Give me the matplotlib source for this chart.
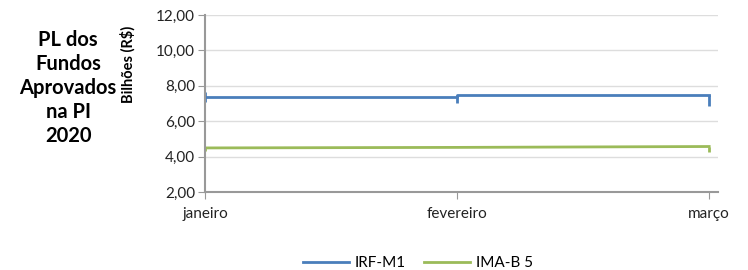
import numpy as np
import matplotlib.pyplot as plt

meses = ["janeiro", "fevereiro", "março"]
irf_m1 = [7.35, 7.48, 7.48]
ima_b5 = [4.49, 4.52, 4.57]
# short vertical strokes drawn at each point (lower, upper)
irf_err = [[0.27, 0.45, 0.62], [0.30, 0.0, 0.0]]
ima_err = [[0.15, 0.0, 0.30], [0.0, 0.05, 0.0]]
yticks = [2, 4, 6, 8, 10, 12]

plt.rcParams['font.family'] = ['Lato', 'DejaVu Sans']

fig = plt.figure(figsize=(7.48, 2.70), dpi=100)
ax = fig.add_axes([205 / 748, 1 - 192 / 270, (718 - 205) / 748, (192 - 15) / 270])

x = np.arange(len(meses))
blue = "#4a7ebb"
green = "#9bbb59"

ax.plot(x, irf_m1, drawstyle="steps-post", color=blue, lw=2, label="IRF-M1")
ax.errorbar(x, irf_m1, yerr=irf_err, fmt="none", ecolor=blue, elinewidth=2)
ax.plot(x, ima_b5, color=green, lw=2, label="IMA-B 5")
ax.errorbar(x, ima_b5, yerr=ima_err, fmt="none", ecolor=green, elinewidth=2)

ax.set_xlim(0, 2.035)
ax.set_ylim(2, 12)
ax.set_yticks(yticks)
ax.set_yticklabels([f"{v:.2f}".replace(".", ",") for v in yticks], fontsize=11, color="#222222")
ax.set_xticks(x)
ax.set_xticklabels(meses, fontsize=11, color="#222222")
ax.tick_params(axis="y", length=5, color="#999999", pad=2)
ax.tick_params(axis="x", length=5, color="#999999", pad=6)
ax.grid(axis="y", color="#dddddd", lw=1)
ax.set_axisbelow(True)
for s in ["top", "right"]:
    ax.spines[s].set_visible(False)
for s in ["left", "bottom"]:
    ax.spines[s].set_color("#999999")
    ax.spines[s].set_linewidth(1.5)

fig.text(128 / 748, 1 - 64 / 270, "Bilhões (R$)", rotation=90, fontsize=10.5,
         fontweight="bold", ha="center", va="center")
fig.text(68 / 748, 1 - 88 / 270, "PL dos\nFundos\nAprovados\nna PI\n2020", fontsize=14.5,
         fontweight="bold", ha="center", va="center", linespacing=1.25)

fig.legend(loc="center", bbox_to_anchor=(418 / 748, 1 - 263 / 270), ncol=2, frameon=False,
           fontsize=11, handlelength=3.0, columnspacing=1.2, handletextpad=0.4)

fig.savefig("out.png", dpi=100)
